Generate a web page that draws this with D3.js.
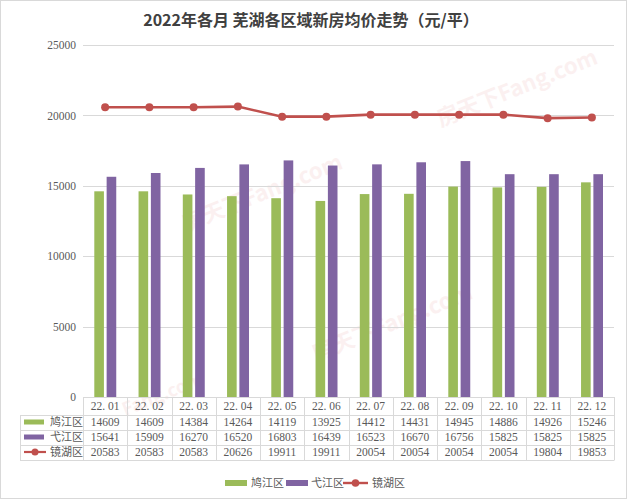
<!DOCTYPE html>
<html><head><meta charset="utf-8">
<script src="https://cdn.jsdelivr.net/npm/d3@7"></script>
<style>body{margin:0;background:#fff}svg{display:block}</style>
</head><body>
<svg id="c" width="627" height="500"></svg>
<script>
const months = ["22.01","22.02","22.03","22.04","22.05","22.06","22.07","22.08","22.09","22.10","22.11","22.12"];
const monthLabels = ["22. 01","22. 02","22. 03","22. 04","22. 05","22. 06","22. 07","22. 08","22. 09","22. 10","22. 11","22. 12"];
const jiujiang = [14609,14609,14384,14264,14119,13925,14412,14431,14945,14886,14926,15246];
const yijiang  = [15641,15909,16270,16520,16803,16439,16523,16670,16756,15825,15825,15825];
const jinghu   = [20583,20583,20583,20626,19911,19911,20054,20054,20054,20054,19804,19853];
const seriesNames = ["鸠江区","弋江区","镜湖区"];
const colors = ["#9BBB59","#8064A2","#C0504D"];
const yTicks = [0,5000,10000,15000,20000,25000];
const title = "2022年各月 芜湖各区域新房均价走势（元/平）";

(function(){
const svg = d3.select("#c");
const W = 627, H = 500;
const pL = 83, pR = 614, pT = 45, pB = 397;
const numFont = "'Liberation Serif', serif";
const txtColor = "#595959";

svg.append("rect").attr("x",0.5).attr("y",0.5).attr("width",W-1).attr("height",H-2)
  .attr("fill","#fff").attr("stroke","#d9d9d9");

// watermarks
const wm = [
  {t:"房天下Fang.com", x:520, y:95, s:22},
  {t:"房天下Fang.com", x:265, y:200, s:22},
  {t:"房天下Fang.com", x:395, y:330, s:22},
  {t:"Fang.com", x:165, y:400, s:18}
];
svg.append("g").selectAll("text").data(wm).join("text")
  .attr("transform", d=>`translate(${d.x},${d.y}) rotate(-22)`)
  .attr("text-anchor","middle").attr("font-family","'Noto Sans CJK SC',sans-serif")
  .attr("font-size",d=>d.s).attr("font-weight","bold")
  .attr("fill","#e8a0a0").attr("opacity",0.15).text(d=>d.t);

svg.append("text").attr("x",311).attr("y",26).attr("text-anchor","middle")
  .attr("font-family","'Noto Sans CJK SC','Noto Sans',sans-serif").attr("font-weight","bold")
  .attr("font-size",16).attr("fill","#404040").text(title);

const x = d3.scaleBand().domain(months).range([pL,pR]).paddingInner(0).paddingOuter(0);
const y = d3.scaleLinear().domain([0,25000]).range([pB,pT]);
const sub = d3.scaleBand().domain([0,1]).range([11.3, x.bandwidth()-11.3+0.3]).paddingInner(0.22);

// grid
svg.append("g").selectAll("line").data(yTicks.filter(d=>d>0)).join("line")
  .attr("x1",pL).attr("x2",pR).attr("y1",d=>Math.round(y(d))+0.5).attr("y2",d=>Math.round(y(d))+0.5)
  .attr("stroke","#d9d9d9").attr("stroke-width",1);

// y axis labels
const yAxis = d3.axisLeft(y).tickValues(yTicks).tickFormat(d3.format("d")).tickSize(0).tickPadding(7);
const ya = svg.append("g").attr("transform",`translate(${pL},0)`).call(yAxis);
ya.select(".domain").remove();
ya.selectAll("text").attr("font-family",numFont).attr("font-size",11.5).attr("fill",txtColor);

// bars
[jiujiang, yijiang].forEach((vals,si)=>{
  svg.append("g").selectAll("rect").data(vals).join("rect")
    .attr("x",(d,i)=>x(months[i])+sub(si)).attr("width",sub.bandwidth())
    .attr("y",d=>y(d)).attr("height",d=>y(0)-y(d)).attr("fill",colors[si]);
});

// line
const cx = (d,i)=>x(months[i])+x.bandwidth()/2;
svg.append("path").datum(jinghu)
  .attr("d", d3.line().x(cx).y(d=>y(d)))
  .attr("fill","none").attr("stroke",colors[2]).attr("stroke-width",2.6);
svg.append("g").selectAll("circle").data(jinghu).join("circle")
  .attr("cx",cx).attr("cy",d=>y(d)).attr("r",4).attr("fill",colors[2]);

// data table
const rowY = [397, 414.5, 429.5, 444.5, 459.5];
const tLeft = 20;
const g = svg.append("g").attr("stroke","#d9d9d9").attr("stroke-width",1);
rowY.forEach((ry,i)=>{
  g.append("line").attr("x1", i===0?pL:tLeft).attr("x2",pR)
   .attr("y1",Math.round(ry)+0.5).attr("y2",Math.round(ry)+0.5);
});
d3.range(13).forEach(i=>{
  const vx = Math.round(pL + i*x.bandwidth())+0.5;
  g.append("line").attr("x1",vx).attr("x2",vx).attr("y1",rowY[0]).attr("y2",Math.round(rowY[4])+0.5);
});
g.append("line").attr("x1",tLeft+0.5).attr("x2",tLeft+0.5).attr("y1",Math.round(rowY[1])+0.5).attr("y2",Math.round(rowY[4])+0.5);

svg.append("g").selectAll("text").data(monthLabels).join("text")
  .attr("x",(d,i)=>x(months[i])+x.bandwidth()/2).attr("y",(rowY[0]+rowY[1])/2+4)
  .attr("text-anchor","middle").attr("font-family",numFont).attr("font-size",11.5)
  .attr("fill",txtColor).style("white-space","pre").text(d=>d);

const tableRows = [jiujiang, yijiang, jinghu];
tableRows.forEach((vals,ri)=>{
  const cy = (rowY[ri+1]+rowY[ri+2])/2;
  svg.append("g").selectAll("text").data(vals).join("text")
    .attr("x",(d,i)=>x(months[i])+x.bandwidth()/2).attr("y",cy+4)
    .attr("text-anchor","middle").attr("font-family",numFont).attr("font-size",11.5)
    .attr("fill",txtColor).text(d=>d);
  if (ri<2) {
    svg.append("rect").attr("x",24).attr("y",cy-2.5).attr("width",20).attr("height",5).attr("fill",colors[ri]);
  } else {
    svg.append("line").attr("x1",24).attr("x2",46).attr("y1",cy).attr("y2",cy).attr("stroke",colors[2]).attr("stroke-width",2.2);
    svg.append("circle").attr("cx",35).attr("cy",cy).attr("r",3.5).attr("fill",colors[2]);
  }
  svg.append("text").attr("x",50).attr("y",cy+4).attr("font-family","'Noto Sans CJK SC',sans-serif")
    .attr("font-size",11).attr("fill",txtColor).text(seriesNames[ri]);
});

// bottom legend
const ly = 483;
const lg = svg.append("g");
const legItems = [
  {x:225, key:"rect", c:colors[0], tx:251, t:seriesNames[0]},
  {x:286, key:"rect", c:colors[1], tx:311, t:seriesNames[1]},
  {x:343, key:"line", c:colors[2], tx:372, t:seriesNames[2]}
];
legItems.forEach(it=>{
  if (it.key==="rect") {
    lg.append("rect").attr("x",it.x).attr("y",ly-3).attr("width",22).attr("height",6).attr("fill",it.c);
  } else {
    lg.append("line").attr("x1",it.x).attr("x2",it.x+25).attr("y1",ly).attr("y2",ly).attr("stroke",it.c).attr("stroke-width",2.4);
    lg.append("circle").attr("cx",it.x+12.5).attr("cy",ly).attr("r",3.8).attr("fill",it.c);
  }
  lg.append("text").attr("x",it.tx).attr("y",ly+4).attr("font-family","'Noto Sans CJK SC',sans-serif")
    .attr("font-size",11).attr("fill",txtColor).text(it.t);
});
})();
</script>
</body></html>
